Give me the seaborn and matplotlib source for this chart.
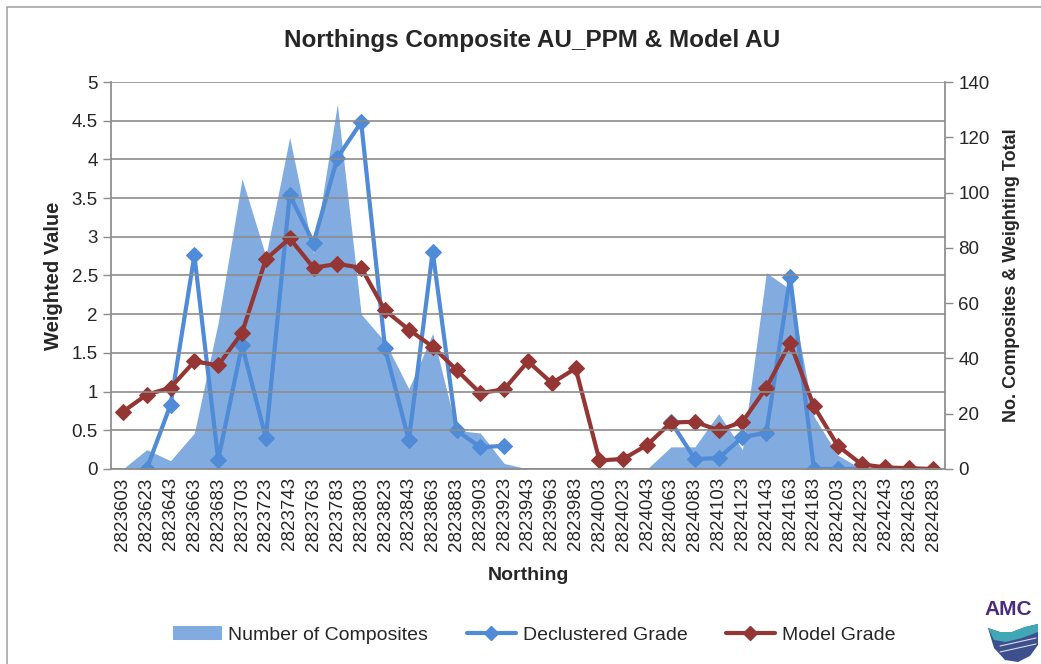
import numpy as np
import pandas as pd
import matplotlib
matplotlib.use("Agg")
import matplotlib.pyplot as plt
from matplotlib.lines import Line2D
from matplotlib.patches import Patch, Rectangle, Polygon
import seaborn as sns

# -----------------------------
# Data
# -----------------------------
northings = [str(n) for n in range(2823603, 2824284, 20)]

# number of composites (right axis)
n_composites = [0, 7, 3, 13, 53, 105, 77, 120, 78, 132, 56, 46, 29, 49, 14, 13, 2,
                0, 0, 0, 0, 0, 0, 8, 8, 20, 7, 71, 65, 19, 5, 0, 0, 0, 0]

# declustered grade (left axis), NaN = no value
declustered = [np.nan, 0.0, 0.83, 2.76, 0.12, 1.60, 0.40, 3.54, 2.92, 4.02, 4.48,
               1.56, 0.37, 2.81, 0.50, 0.28, 0.30,
               np.nan, np.nan, np.nan, np.nan, np.nan, np.nan,
               0.61, 0.13, 0.14, 0.41, 0.47, 2.48, 0.0, 0.0, 0.0,
               np.nan, np.nan, np.nan]

# model grade (left axis)
model = [0.74, 0.96, 1.05, 1.39, 1.34, 1.76, 2.71, 2.98, 2.60, 2.65, 2.60,
         2.05, 1.80, 1.58, 1.28, 0.98, 1.03, 1.39, 1.11, 1.30, 0.11, 0.13, 0.31,
         0.60, 0.61, 0.50, 0.61, 1.05, 1.63, 0.81, 0.30, 0.06, 0.02, 0.01, 0.0]

AREA = "#82ACE0"
BLUE = "#4F8BD6"
RED = "#943634"
GRID = "#8C8C8C"

sns.set_theme(style="white")
plt.rcParams["font.family"] = ["Liberation Sans", "DejaVu Sans"]

df = pd.DataFrame({"idx": np.arange(len(northings)),
                   "composites": n_composites,
                   "declustered": declustered,
                   "model": model})
# split declustered into continuous runs so the gap is not bridged
df["seg"] = df["declustered"].isna().cumsum()

fig = plt.figure(figsize=(10.41, 6.64), dpi=100)
ax = fig.add_axes([0.1066, 0.2937, 0.8012, 0.5828])
ax2 = ax.twinx()

# area on the secondary axis
ax2.fill_between(df["idx"], df["composites"], color=AREA, linewidth=0, zorder=1)
ax2.set_ylim(0, 140)
ax2.set_yticks(range(0, 141, 20))

# lines on the primary axis, drawn above the area
ax.set_zorder(ax2.get_zorder() + 1)
ax.patch.set_visible(False)

dec = df.dropna(subset=["declustered"])
sns.lineplot(data=dec, x="idx", y="declustered", units="seg", estimator=None,
             color=BLUE, linewidth=3, marker="D", markersize=8,
             markeredgecolor=BLUE, ax=ax, legend=False)
sns.lineplot(data=df, x="idx", y="model", estimator=None,
             color=RED, linewidth=3, marker="D", markersize=8,
             markeredgecolor=RED, ax=ax, legend=False)

ax.set_xlim(-0.5, len(northings) - 0.5)
ax.set_ylim(0, 5)
ax.set_yticks(np.arange(0, 5.01, 0.5))
ax.set_yticklabels(["0", "0.5", "1", "1.5", "2", "2.5", "3", "3.5", "4", "4.5", "5"])
ax.yaxis.grid(True, color=GRID, linewidth=1.2)
ax.set_axisbelow(False)

# categories centred between tick marks, Excel style
ax.set_xticks(df["idx"])
ax.set_xticklabels(northings, rotation=90)
ax.set_xticks(np.arange(-0.5, len(northings), 1), minor=True)
ax.tick_params(axis="x", which="major", length=0, labelsize=13.5, pad=6)
ax.tick_params(axis="x", which="minor", length=6, color=GRID, width=1, direction="out")
ax.tick_params(axis="y", length=6, color=GRID, width=1, direction="out",
               labelsize=13.5, left=True)
ax2.tick_params(axis="y", length=6, color=GRID, width=1, direction="out",
                labelsize=13.5, right=True)

for a in (ax, ax2):
    for s in a.spines.values():
        s.set_visible(False)
ax.spines["left"].set_visible(True)
ax.spines["left"].set_color(GRID)
ax.spines["bottom"].set_visible(True)
ax.spines["bottom"].set_color(GRID)
ax2.spines["right"].set_visible(True)
ax2.spines["right"].set_color(GRID)

ax.set_xlabel("Northing", fontsize=14, fontweight="bold", labelpad=12)
ax.set_ylabel("Weighted Value", fontsize=14.5, fontweight="bold", labelpad=6)
ax2.set_ylabel("No. Composites & Weighting Total", fontsize=13,
               fontweight="bold", labelpad=10)
ax2.set_xlabel("")

fig.text(0.511, 0.939, "Northings Composite AU_PPM & Model AU",
         ha="center", va="center", fontsize=17.5, fontweight="bold")

handles = [Patch(facecolor=AREA, edgecolor="none"),
           Line2D([], [], color=BLUE, linewidth=3, marker="D", markersize=7),
           Line2D([], [], color=RED, linewidth=3, marker="D", markersize=7)]
fig.legend(handles, ["Number of Composites", "Declustered Grade", "Model Grade"],
           loc="center", bbox_to_anchor=(0.513, 0.044), ncol=3, frameon=False,
           fontsize=14, handlelength=2.5, columnspacing=2.0, handletextpad=0.35)

# chart border
fig.patches.append(Rectangle((7 / 1041, -0.01), 1.02, 1 - 7 / 664 + 0.01,
                             transform=fig.transFigure, fill=False,
                             edgecolor="#A6A6A6", linewidth=1.2))

# AMC logo (approximate)
fig.text(0.946, 0.082, "AMC", ha="left", va="center", fontsize=15,
         fontweight="bold", color="#4B2B7F")
W, H = 1041, 664
bowl = [(988, 628), (1000, 632), (1012, 632), (1025, 627), (1038, 624),
        (1038, 645), (1030, 656), (1018, 662), (1005, 660), (994, 648)]
fig.patches.append(Polygon([(x / W, 1 - y / H) for x, y in bowl], closed=True,
                           transform=fig.transFigure,
                           facecolor="#3D4F8C", edgecolor="none"))
rim = [(988, 628), (1000, 632), (1012, 632), (1025, 627), (1038, 624),
       (1038, 632), (1022, 638), (1006, 642), (994, 640)]
fig.patches.append(Polygon([(x / W, 1 - y / H) for x, y in rim], closed=True,
                           transform=fig.transFigure,
                           facecolor="#3FA7B5", edgecolor="none"))
for y0 in (646, 652):
    fig.lines.append(Line2D([1000 / W, 1036 / W], [1 - y0 / H, 1 - (y0 - 8) / H],
                            transform=fig.transFigure, color="white",
                            linewidth=0.8, alpha=0.8))

fig.savefig("out.png", dpi=100)
